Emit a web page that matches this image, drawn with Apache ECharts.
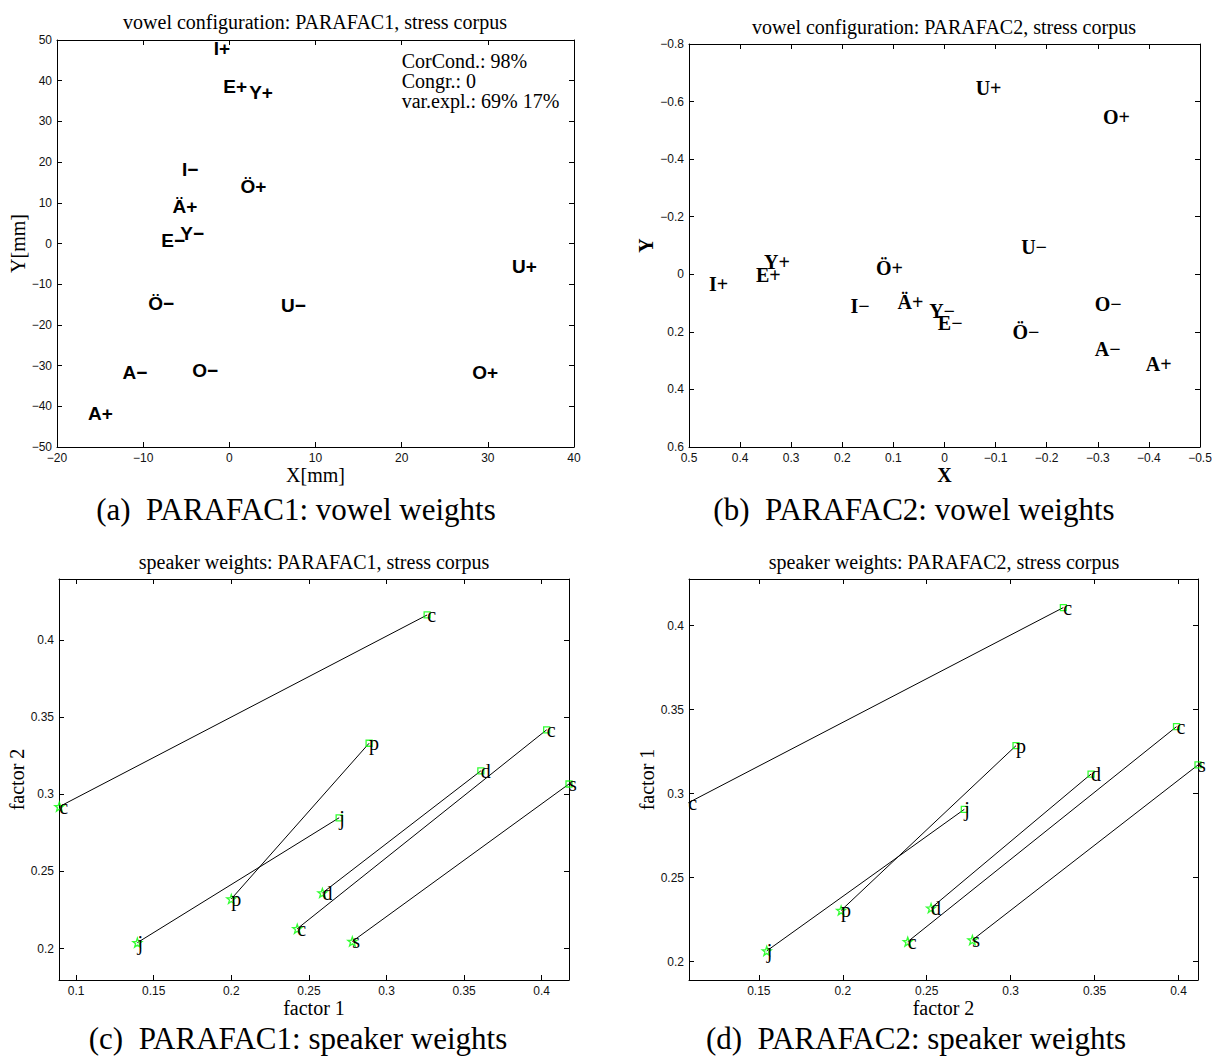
<!DOCTYPE html>
<html>
<head>
<meta charset="utf-8">
<script src="https://cdn.jsdelivr.net/npm/echarts@6/dist/echarts.min.js"></script>
<style>
  html, body { margin: 0; padding: 0; background: #fff; }
  #chart { width: 1215px; height: 1058px; }
</style>
</head>
<body>
<div id="chart"></div>
<script>
// (a) PARAFAC1 vowel weights, X/Y in mm
const vowelsA = ['I+', 'E+', 'Y+', 'I−', 'Ö+', 'Ä+', 'Y−', 'E−', 'U+', 'Ö−', 'U−', 'A−', 'O−', 'O+', 'A+'];
const vowelAX = [-1.8, -0.7, 2.3, -5.5, 1.3, -6.6, -5.7, -7.9, 32.8, -9.4, 6.0, -12.4, -4.3, 28.2, -16.4];
const vowelAY = [48.0, 38.5, 37.0, 18.2, 14.1, 9.0, 2.5, 0.7, -5.7, -14.8, -15.2, -31.6, -31.1, -31.6, -41.8];
const statsA = ['CorCond.: 98%', 'Congr.: 0', 'var.expl.: 69% 17%'];

// (b) PARAFAC2 vowel weights
const vowelsB = ['U+', 'O+', 'U−', 'Y+', 'Ö+', 'E+', 'I+', 'I−', 'Ä+', 'O−', 'Y−', 'E−', 'Ö−', 'A−', 'A+'];
const vowelBX = [-0.061, -0.310, -0.150, 0.353, 0.134, 0.369, 0.461, 0.184, 0.092, -0.294, 0.030, 0.013, -0.133, -0.294, -0.394];
const vowelBY = [-0.647, -0.546, -0.096, -0.044, -0.021, 0.002, 0.034, 0.110, 0.095, 0.104, 0.126, 0.168, 0.200, 0.258, 0.312];

// speakers, one line per speaker from star to square
const speakers = ['c', 'p', 'j', 'd', 'c', 's'];

// (c) PARAFAC1 speaker weights
const spkC_starX = [0.0892, 0.2000, 0.1395, 0.2587, 0.2425, 0.2780];
const spkC_starY = [0.2920, 0.2322, 0.2039, 0.2361, 0.2129, 0.2047];
const spkC_sqX = [0.3262, 0.2888, 0.2695, 0.3608, 0.4032, 0.4176];
const spkC_sqY = [0.4162, 0.3331, 0.2848, 0.3152, 0.3418, 0.3067];

// (d) PARAFAC2 speaker weights
const spkD_starX = [0.1080, 0.1990, 0.1547, 0.2526, 0.2387, 0.2772];
const spkD_starY = [0.2946, 0.2305, 0.2064, 0.2319, 0.2119, 0.2129];
const spkD_sqX = [0.3314, 0.3032, 0.2724, 0.3479, 0.3988, 0.4116];
const spkD_sqY = [0.4108, 0.3286, 0.2907, 0.3117, 0.3399, 0.3171];

const titles = [
  'vowel configuration: PARAFAC1, stress corpus',
  'vowel configuration: PARAFAC2, stress corpus',
  'speaker weights: PARAFAC1, stress corpus',
  'speaker weights: PARAFAC2, stress corpus'
];
const captions = [
  '(a)  PARAFAC1: vowel weights',
  '(b)  PARAFAC2: vowel weights',
  '(c)  PARAFAC1: speaker weights',
  '(d)  PARAFAC2: speaker weights'
];

const SERIF = '"Liberation Serif", "Times New Roman", serif';
const SANS = '"Liberation Sans", Arial, sans-serif';

const grids = [
  { left: 57, top: 40, width: 517, height: 407 },
  { left: 689, top: 44, width: 511, height: 403 },
  { left: 59, top: 579, width: 510, height: 401 },
  { left: 689, top: 579, width: 509, height: 401 }
];

const minus = (v) => String(v).replace('-', '\u2212');

// bottom + top x axes, left + right y axes (matlab box with inner ticks)
function axisPair(dim, g, cfg) {
  const base = {
    type: 'value',
    gridIndex: g,
    min: cfg.min,
    max: cfg.max,
    interval: cfg.interval,
    inverse: !!cfg.inverse,
    splitLine: { show: false },
    axisLine: { show: true, onZero: false, lineStyle: { color: '#000', width: 1 } },
    axisTick: { show: true, inside: true, length: 5, lineStyle: { color: '#000', width: 1 } }
  };
  const main = Object.assign({}, base, {
    position: dim === 'x' ? 'bottom' : 'left',
    name: cfg.name,
    nameLocation: 'middle',
    nameGap: cfg.nameGap,
    nameTextStyle: {
      fontFamily: SERIF, fontSize: 20, color: '#000',
      fontWeight: cfg.bold ? 'bold' : 'normal'
    },
    axisLabel: {
      show: true, margin: 5, fontFamily: SANS, fontSize: 12, color: '#111',
      formatter: minus,
      showMinLabel: cfg.edgeLabels, showMaxLabel: cfg.edgeLabels
    }
  });
  const other = Object.assign({}, base, {
    position: dim === 'x' ? 'top' : 'right',
    axisLabel: { show: false }
  });
  return [main, other];
}

const xAxis = [].concat(
  axisPair('x', 0, { min: -20, max: 40, interval: 10, name: 'X[mm]', nameGap: 16, edgeLabels: true }),
  axisPair('x', 1, { min: -0.5, max: 0.5, interval: 0.1, inverse: true, name: 'X', bold: true, nameGap: 16, edgeLabels: true }),
  axisPair('x', 2, { min: 0.089, max: 0.4176, name: 'factor 1', nameGap: 17, edgeLabels: false }),
  axisPair('x', 3, { min: 0.1084, max: 0.4116, name: 'factor 2', nameGap: 17, edgeLabels: false })
);
const yAxis = [].concat(
  axisPair('y', 0, { min: -50, max: 50, interval: 10, name: 'Y[mm]', nameGap: 29, edgeLabels: true }),
  axisPair('y', 1, { min: -0.8, max: 0.6, interval: 0.2, inverse: true, name: 'Y', bold: true, nameGap: 32, edgeLabels: true }),
  axisPair('y', 2, { min: 0.1797, max: 0.4395, name: 'factor 2', nameGap: 30, edgeLabels: false }),
  axisPair('y', 3, { min: 0.1891, max: 0.4278, name: 'factor 1', nameGap: 30, edgeLabels: false })
);

// text placed at a data point, left-aligned and vertically centred (like matlab text())
function textSeries(g, xs, ys, names, font) {
  return {
    type: 'scatter',
    xAxisIndex: 2 * g, yAxisIndex: 2 * g,
    clip: false, silent: true, z: 5,
    symbol: 'circle', symbolSize: 0,
    itemStyle: { color: '#000', opacity: 1 },
    data: xs.map((x, i) => ({ value: [x, ys[i]], name: names[i] })),
    label: Object.assign({
      show: true, position: 'right', distance: 0, formatter: '{b}',
      color: '#000', opacity: 1, textBorderWidth: 0
    }, font),
    emphasis: { disabled: true }
  };
}

function starPath() {
  const pts = [];
  for (let i = 0; i < 10; i++) {
    const r = i % 2 ? 0.4 : 1;
    const a = -Math.PI / 2 + i * Math.PI / 5;
    pts.push((r * Math.cos(a)).toFixed(3) + ' ' + (r * Math.sin(a)).toFixed(3));
  }
  return 'path://M' + pts.join(' L') + ' Z';
}

function speakerSeries(g, sx, sy, qx, qy) {
  const markerStyle = { color: 'rgba(0,0,0,0)', borderColor: '#00ff00', borderWidth: 1.3 };
  return [
    {
      type: 'lines', coordinateSystem: 'cartesian2d',
      xAxisIndex: 2 * g, yAxisIndex: 2 * g, silent: true, z: 2,
      lineStyle: { color: '#000', width: 1, opacity: 1 },
      data: sx.map((x, i) => ({ coords: [[x, sy[i]], [qx[i], qy[i]]] }))
    },
    {
      type: 'scatter', xAxisIndex: 2 * g, yAxisIndex: 2 * g, silent: true, z: 3,
      symbol: starPath(), symbolSize: 9, itemStyle: markerStyle,
      data: sx.map((x, i) => [x, sy[i]])
    },
    {
      type: 'scatter', xAxisIndex: 2 * g, yAxisIndex: 2 * g, silent: true, z: 3,
      symbol: 'rect', symbolSize: 6, itemStyle: markerStyle,
      data: qx.map((x, i) => [x, qy[i]])
    },
    textSeries(g, sx, sy, speakers, { fontFamily: SERIF, fontSize: 20 }),
    textSeries(g, qx, qy, speakers, { fontFamily: SERIF, fontSize: 20 })
  ];
}

const titlePos = [[315, 22], [944, 27], [314, 562], [944, 562]];
const captionPos = [[296, 509], [914, 509], [298, 1038], [916, 1038]];

const graphic = [];
titles.forEach((t, i) => graphic.push({
  type: 'text', x: titlePos[i][0], y: titlePos[i][1], silent: true,
  style: { text: t, fontFamily: SERIF, fontSize: 20, fill: '#000', align: 'center', verticalAlign: 'middle' }
}));
captions.forEach((t, i) => graphic.push({
  type: 'text', x: captionPos[i][0], y: captionPos[i][1], silent: true,
  style: { text: t, fontFamily: SERIF, fontSize: 31, fill: '#000', align: 'center', verticalAlign: 'middle' }
}));

const chart = echarts.init(document.getElementById('chart'), null, { renderer: 'svg' });
chart.setOption({
  animation: false,
  backgroundColor: '#fff',
  grid: grids.map(g => Object.assign({ outerBoundsMode: 'none', containLabel: false }, g)),
  xAxis: xAxis,
  yAxis: yAxis,
  graphic: graphic,
  series: [
    textSeries(0, vowelAX, vowelAY, vowelsA, { fontFamily: SANS, fontWeight: 'bold', fontSize: 19 }),
    {
      // fit statistics, top-right of panel (a)
      type: 'scatter', xAxisIndex: 0, yAxisIndex: 0, silent: true, clip: false,
      symbolSize: 0, itemStyle: { color: '#000', opacity: 1 },
      data: [{ value: [20, 40], name: statsA.join('\n') }],
      label: {
        show: true, position: 'right', distance: 0, formatter: '{b}',
        fontFamily: SERIF, fontSize: 20, lineHeight: 20, color: '#000', opacity: 1
      },
      emphasis: { disabled: true }
    },
    textSeries(1, vowelBX, vowelBY, vowelsB, { fontFamily: SERIF, fontWeight: 'bold', fontSize: 20 })
  ].concat(
    speakerSeries(2, spkC_starX, spkC_starY, spkC_sqX, spkC_sqY),
    speakerSeries(3, spkD_starX, spkD_starY, spkD_sqX, spkD_sqY)
  )
});
</script>
</body>
</html>
